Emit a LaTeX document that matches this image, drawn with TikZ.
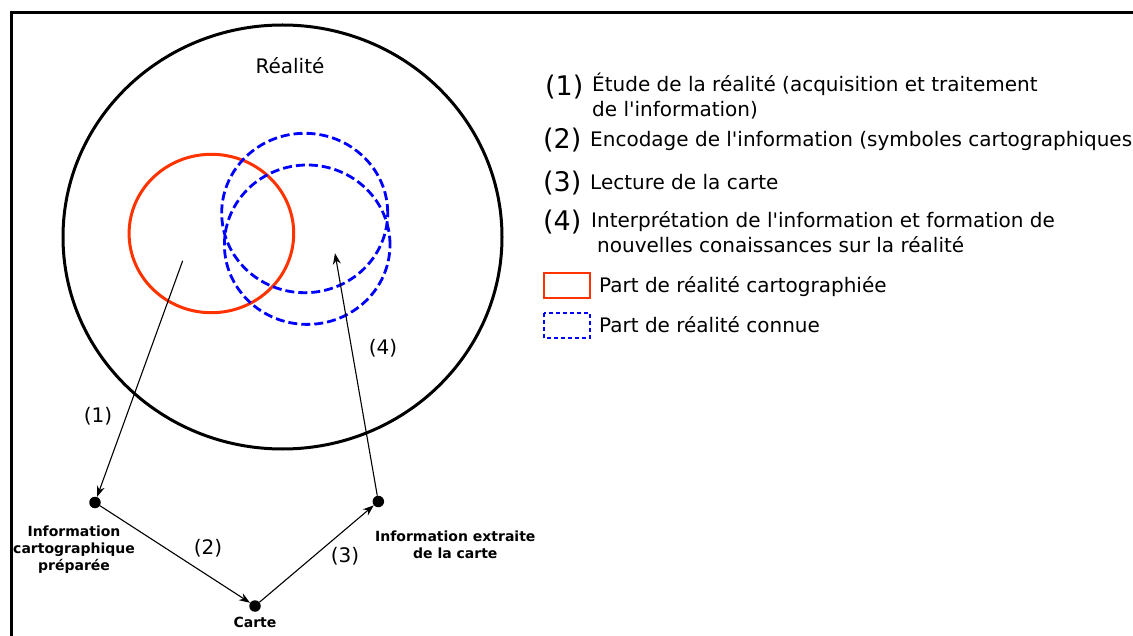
\documentclass[tikz,border=0pt]{standalone}
\usepackage{fontspec}
\setmainfont{DejaVu Sans}[Ligatures=TeXOff]
\usepackage{xcolor}
\usetikzlibrary{positioning}
\usetikzlibrary{arrows.meta}
\definecolor{cartored}{RGB}{255,51,0}
\definecolor{knownblue}{RGB}{0,0,255}
\tikzstyle{dot}=[circle, fill=black, inner sep=0pt, minimum size=11.5pt]
\tikzstyle{flow}=[-{Stealth[length=11pt, width=8pt]}, line width=1.1pt]
\tikzstyle{mapped}=[draw=cartored, line width=3pt]
\tikzstyle{known}=[draw=knownblue, line width=2.8pt, dash pattern=on 9pt off 4pt]
\tikzstyle{caption}=[font=\fontsize{14}{17}\selectfont\bfseries, align=center, inner sep=0pt]
\tikzstyle{stepnum}=[font=\fontsize{20}{24}\selectfont, inner sep=0pt, anchor=base]
\tikzstyle{legnum}=[font=\fontsize{27}{30}\selectfont, inner sep=0pt, anchor=base west]
\tikzstyle{legtext}=[font=\fontsize{20}{25}\selectfont, align=left, inner sep=0pt, anchor=base west]

\begin{document}
\begin{tikzpicture}[x=1pt, y=-1pt]
    \useasboundingbox (0,0) rectangle (1133,636);
    \draw[line width=2.5pt] (11.5,636) |- (1133,12.3);

    % reality, mapped part, known part
    \draw[line width=3pt] (282.5,237) ellipse [x radius=219.5pt, y radius=212pt];
    \draw[mapped] (211.4,233.5) ellipse [x radius=82.3pt, y radius=79.2pt];
    \draw[known] (304.7,213) ellipse [x radius=83pt, y radius=79.7pt];
    \draw[known] (307.2,244.7) ellipse [x radius=82.8pt, y radius=79.7pt];
    \node[stepnum] (reality) at (290,74) {Réalité};

    \node[dot] (prep)  at (95,502.5)  {};
    \node[dot] (carte) at (255,606)   {};
    \node[dot] (extr)  at (378.3,501.5) {};
    \coordinate (src) at (182.7,260.7);
    \coordinate (tgt) at (335,253.3);

    \node[caption, below=17pt of prep, xshift=-21pt] (prepLbl) {Information\\cartographique\\préparée};
    \node[caption, below=4.5pt of carte]             (carteLbl) {Carte};
    \node[caption, below=23pt of extr, xshift=77pt]  (extrLbl) {Information extraite\\de la carte};

    \draw[flow] (src) -- (prep);
    \draw[flow] (prep) -- (carte);
    \draw[flow] (carte) -- (extr);
    \draw[flow] (extr) -- (tgt);

    \node[stepnum] (s1) at (98,422)  {(1)};
    \node[stepnum] (s2) at (208,554) {(2)};
    \node[stepnum] (s3) at (345,562) {(3)};
    \node[stepnum] (s4) at (383,355) {(4)};

    % legend (base of a two-line text is its last line)
    \node[legnum]  (n1) at (545,95.5)  {(1)};
    \node[legtext] (t1) at (592,117)   {Étude de la réalité (acquisition et traitement\\de l'information)};
    \node[legnum]  (n2) at (543,148.5) {(2)};
    \node[legtext] (t2) at (590,147)   {Encodage de l'information (symboles cartographiques)};
    \node[legnum]  (n3) at (543,191.5) {(3)};
    \node[legtext] (t3) at (590,190)   {Lecture de la carte};
    \node[legnum]  (n4) at (543,230.5) {(4)};
    \node[legtext] (t4) at (591,253)   {Interprétation de l'information et formation de\\\hspace*{6pt}nouvelles conaissances sur la réalité};

    \draw[draw=cartored, line width=2pt] (544,273) rectangle (590,298);
    \node[legtext] (mappedTxt) at (599,293) {Part de réalité cartographiée};
    \draw[draw=knownblue, line width=1.5pt, dash pattern=on 4pt off 3pt] (544,313) rectangle (590,338);
    \node[legtext] (knownTxt) at (599,333) {Part de réalité connue};
\end{tikzpicture}
\end{document}
